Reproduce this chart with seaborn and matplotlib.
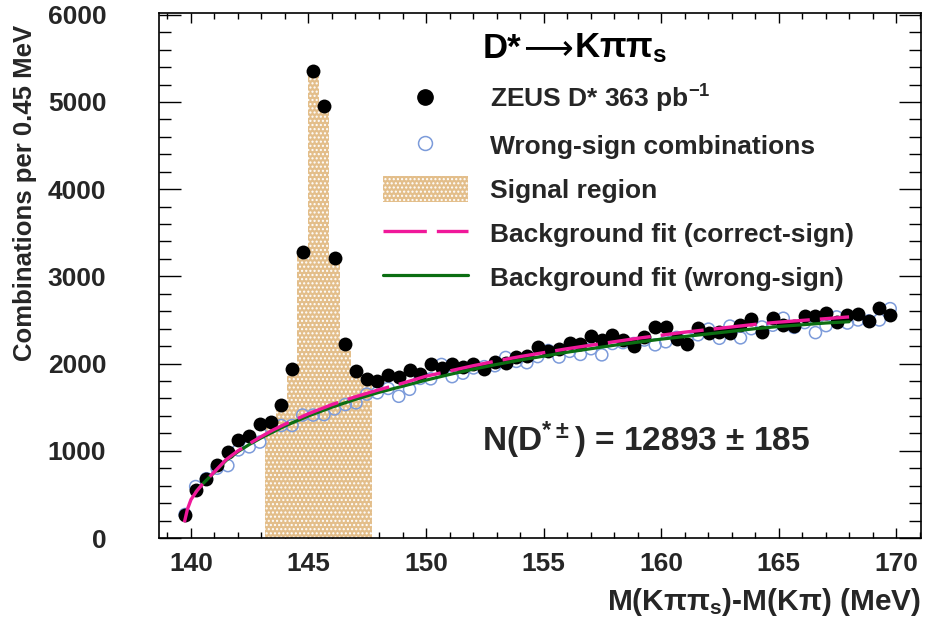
import numpy as np
import pandas as pd
import matplotlib
matplotlib.use("Agg")
import matplotlib.pyplot as plt
from matplotlib.lines import Line2D
from matplotlib.patches import Patch
from matplotlib.ticker import MultipleLocator
from matplotlib.offsetbox import TextArea, HPacker, AnnotationBbox
import seaborn as sns

# ---------------- data ----------------
mass = [139.75, 140.20, 140.66, 141.11, 141.57, 142.02, 142.48, 142.93, 143.39, 143.84,
        144.30, 144.75, 145.20, 145.66, 146.11, 146.57, 147.02, 147.48, 147.93, 148.39,
        148.84, 149.30, 149.75, 150.20, 150.66, 151.11, 151.57, 152.02, 152.48, 152.93,
        153.39, 153.84, 154.29, 154.75, 155.20, 155.66, 156.11, 156.57, 157.02, 157.48,
        157.93, 158.38, 158.84, 159.29, 159.75, 160.20, 160.66, 161.11, 161.57, 162.02,
        162.48, 162.93, 163.38, 163.84, 164.29, 164.75, 165.20, 165.66, 166.11, 166.57,
        167.02, 167.47, 167.93, 168.38, 168.84, 169.29, 169.75]

zeus = [265, 550, 675, 840, 990, 1125, 1175, 1305, 1330, 1530,
        1935, 3285, 5350, 4950, 3210, 2225, 1910, 1825, 1800, 1870,
        1850, 1925, 1880, 1990, 1955, 1990, 1965, 1990, 1940, 2020,
        2005, 2075, 2090, 2185, 2145, 2170, 2235, 2220, 2315, 2265,
        2330, 2270, 2205, 2310, 2425, 2425, 2280, 2220, 2405, 2350,
        2365, 2355, 2445, 2510, 2360, 2520, 2445, 2430, 2545, 2545,
        2575, 2480, 2560, 2570, 2490, 2635, 2560]

wrong_sign = [270, 590, 680, 800, 830, 1010, 1045, 1100, 1270, 1290,
              1290, 1410, 1410, 1415, 1480, 1530, 1550, 1650, 1665, 1715,
              1625, 1705, 1830, 1825, 1990, 1850, 1890, 1950, 1965, 1975,
              2070, 2025, 2010, 2080, 2150, 2075, 2140, 2105, 2170, 2100,
              2230, 2240, 2230, 2270, 2215, 2250, 2300, 2290, 2330, 2395,
              2290, 2430, 2295, 2400, 2420, 2440, 2520, 2415, 2470, 2355,
              2435, 2535, 2465, 2500, 2490, 2500, 2630]

# signal region = bins 8..17 of the correct-sign histogram
sig_first, sig_last = 8, 17

# background fit curves
fit_cs_x = [139.72, 139.85, 140.0, 140.25, 140.5, 140.75, 141.0, 141.5, 142.0, 142.5,
            143.0, 143.5, 144.0, 144.5, 145.0, 146.0, 147.0, 148.0, 149.0, 150.0,
            151.0, 152.0, 153.0, 154.0, 155.0, 156.0, 157.0, 158.0, 159.0, 160.0,
            161.0, 162.0, 163.0, 164.0, 165.0, 166.0, 167.0, 168.0]
fit_cs_y = [180, 330, 440, 540, 620, 690, 760, 900, 1000, 1085,
            1165, 1240, 1305, 1365, 1425, 1530, 1620, 1700, 1775, 1855,
            1915, 1975, 2030, 2080, 2125, 2170, 2210, 2250, 2290, 2325,
            2360, 2390, 2420, 2450, 2475, 2495, 2515, 2535]

fit_ws_x = [140.2, 140.5, 141.0, 141.5, 142.0, 142.5, 143.0, 144.0, 145.0, 146.0,
            147.0, 148.0, 149.0, 150.0, 151.0, 152.0, 153.0, 154.0, 155.0, 156.0,
            157.0, 158.0, 159.0, 160.0, 161.0, 162.0, 163.0, 164.0, 165.0, 166.0,
            167.0, 168.0]
fit_ws_y = [530, 620, 755, 890, 990, 1075, 1150, 1285, 1400, 1500,
            1590, 1670, 1740, 1810, 1875, 1935, 1990, 2040, 2085, 2130,
            2170, 2210, 2245, 2280, 2310, 2340, 2370, 2400, 2425, 2445,
            2465, 2480]

title_parts = ["D*", "\u27F6", r"Kππ$_\mathregular{s}$"]
legend_labels = [r"ZEUS D* 363 pb$^\mathregular{-1}$", "Wrong-sign combinations",
                 "Signal region", "Background fit (correct-sign)",
                 "Background fit (wrong-sign)"]
yield_text = r"N(D$^\mathregular{*\pm}$) = 12893 ± 185"
xlabel = r"M(Kππ$_\mathregular{s}$)-M(Kπ) (MeV)"
ylabel = "Combinations per 0.45 MeV"

# ---------------- styling ----------------
sns.set_theme(style="ticks")
plt.rcParams["font.family"] = ["Liberation Sans", "DejaVu Sans"]
plt.rcParams["font.weight"] = "bold"
plt.rcParams["mathtext.fontset"] = "custom"
plt.rcParams["mathtext.rm"] = "Liberation Sans:bold"
plt.rcParams["mathtext.bf"] = "Liberation Sans:bold"
plt.rcParams["mathtext.default"] = "regular"
plt.rcParams["hatch.color"] = "white"
plt.rcParams["hatch.linewidth"] = 1.0

PINK = "#F0189A"
GREEN = "#0B6E12"
TAN = "#E3BE8A"
OPEN = "#7C9BDA"

df = pd.DataFrame({"mass": mass, "zeus": zeus, "ws": wrong_sign})
sig = df.iloc[sig_first:sig_last + 1]
mx = np.asarray(mass)
half = (mx[1] - mx[0]) / 2
edges = np.r_[mx[sig_first] - half,
              (mx[sig_first:sig_last] + mx[sig_first + 1:sig_last + 1]) / 2,
              mx[sig_last] + half].tolist()

fig = plt.figure(figsize=(9.25, 6.21), dpi=100)
ax = fig.add_axes([159 / 925, 1 - 538 / 621, (921 - 159) / 925, (538 - 13) / 621])

sns.histplot(data=sig, x="mass", weights="zeus", bins=edges, stat="count",
             element="bars", fill=True, color=TAN, alpha=1.0, linewidth=0,
             edgecolor="white", hatch="....", ax=ax, zorder=1)

sns.scatterplot(data=df, x="mass", y="ws", marker="o", s=75, facecolor="none",
                edgecolor=OPEN, linewidth=1.1, ax=ax, zorder=2)
sns.scatterplot(data=df, x="mass", y="zeus", marker="o", s=100, color="black",
                edgecolor="black", linewidth=0, ax=ax, zorder=3)

sns.lineplot(x=fit_ws_x, y=fit_ws_y, color=GREEN, linewidth=2.3, ax=ax, zorder=4)
sns.lineplot(x=fit_cs_x, y=fit_cs_y, color=PINK, linewidth=2.4, ax=ax, zorder=5)
ax.lines[-1].set_dashes([13, 3])

ax.set_xlim(138.64, 171.06)
ax.set_ylim(0, 6020)

ax.xaxis.set_major_locator(MultipleLocator(5))
ax.xaxis.set_minor_locator(MultipleLocator(1))
ax.yaxis.set_major_locator(MultipleLocator(1000))
ax.yaxis.set_minor_locator(MultipleLocator(200))
ax.tick_params(axis="both", which="both", direction="in", top=True, right=True,
               color="black", width=1.0)
ax.tick_params(axis="x", which="major", length=7.5, pad=10, labelsize=19)
ax.tick_params(axis="x", which="minor", length=4)
ax.tick_params(axis="y", which="major", length=16, pad=38, labelsize=19)
ax.tick_params(axis="y", which="minor", length=8.5)
for lab in ax.get_xticklabels() + ax.get_yticklabels():
    lab.set_fontweight("bold")
for s in ax.spines.values():
    s.set_linewidth(1.2)
    s.set_color("black")

ax.set_xlabel(xlabel, fontsize=21.5, fontweight="bold", loc="right")
ax.set_ylabel(ylabel, fontsize=18.5, fontweight="bold", loc="top")
ax.xaxis.set_label_coords(1.0, -0.092)
ax.yaxis.set_label_coords(-0.16, 0.977)

# title inside plot: D* -> K pi pi_s
tp = dict(size=25, weight="bold", color="black")
areas = [TextArea(title_parts[0], textprops=tp),
         TextArea(title_parts[1], textprops=dict(size=25, color="black",
                                                 family="DejaVu Sans",
                                                 weight="normal")),
         TextArea(title_parts[2], textprops=tp)]
title_box = HPacker(children=areas, align="baseline", pad=0, sep=1)
fig.add_artist(AnnotationBbox(title_box, (483 / 925, 1 - 48 / 621),
                              xycoords="figure fraction", box_alignment=(0, 0.5),
                              frameon=False, pad=0))

handles = [
    Line2D([], [], marker="o", ls="none", color="black", markersize=11),
    Line2D([], [], marker="o", ls="none", markerfacecolor="none",
           markeredgecolor=OPEN, markersize=10, markeredgewidth=1.1),
    Patch(facecolor=TAN, edgecolor="white", hatch="....", linewidth=0),
    Line2D([], [], color=PINK, lw=2.4, dashes=[13, 3]),
    Line2D([], [], color=GREEN, lw=2.3),
]
leg = ax.legend(handles, legend_labels, loc="upper left",
                bbox_to_anchor=(383 / 925, 1 - 83 / 621),
                bbox_transform=fig.transFigure, frameon=False,
                prop={"size": 19, "weight": "bold"}, handlelength=3.22,
                handleheight=1.14, labelspacing=0.645, handletextpad=0.83,
                borderpad=0, borderaxespad=0)

fig.text(482 / 925, 1 - 440 / 621, yield_text, fontsize=24, fontweight="bold",
         ha="left", va="center")

sns.despine(ax=ax, top=False, right=False)
fig.savefig("out.png", dpi=100)
